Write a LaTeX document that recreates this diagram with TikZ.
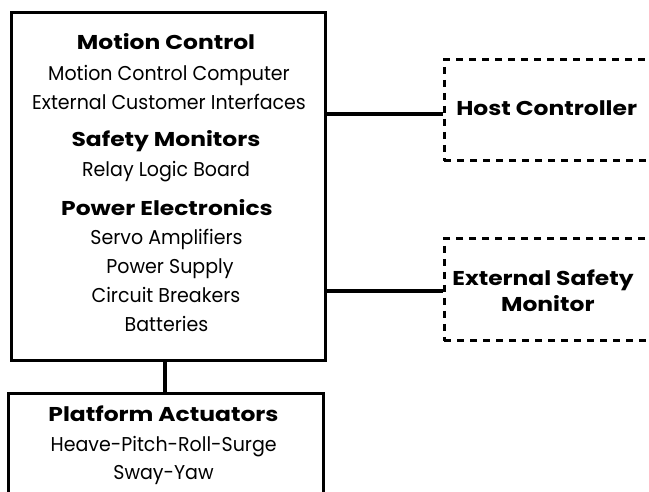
\documentclass[tikz,border=0pt]{standalone}
\usepackage{fontspec}
\setmainfont{Poppins}[FakeStretch=0.95]
\newfontfamily\headfont{Poppins}[FakeStretch=1.17]
\begin{document}
\begin{tikzpicture}[x=1pt,y=-1pt,
  box/.style={draw=black, line width=3pt, rectangle, inner sep=0pt, anchor=north west},
  dashbox/.style={draw=black, line width=3pt, dash pattern=on 7pt off 6pt, rectangle, inner sep=0pt, anchor=north west},
  link/.style={draw=black, line width=4pt},
  head/.style={anchor=base, inner sep=0pt, font=\headfont\fontsize{20}{24}\selectfont\bfseries},
  item/.style={anchor=base, inner sep=0pt, font=\fontsize{20}{24}\selectfont}]
\useasboundingbox (0,0) rectangle (649,492);
\clip (0,0) rectangle (649,492);
\fill[white] (0,0) rectangle (649,492);

% control cabinet
\node[box, minimum width=313.5pt, minimum height=347pt] (main) at (10,11.5) {};
\node[head] (mc)  at (166,50)  {Motion Control};
\node[item] (mcc) at (169,81)  {Motion Control Computer};
\node[item] (eci) at (169,110) {External Customer Interfaces};
\node[head] (sm)  at (166,147) {Safety Monitors};
\node[item] (rlb) at (166,177) {Relay Logic Board};
\node[head] (pe)  at (167,216) {Power Electronics};
\node[item] (sa)  at (166.5,245) {Servo Amplifiers};
\node[item] (ps)  at (170,274) {Power Supply};
\node[item] (cb)  at (166,303) {Circuit Breakers};
\node[item] (bat) at (166.5,332) {Batteries};

% external units
\node[dashbox, minimum width=257.5pt, minimum height=101.5pt] (host) at (442.5,58) {};
\node[head] (hc) at (546.7,116) {Host Controller};
\node[dashbox, minimum width=257.5pt, minimum height=102pt] (esm) at (442.5,237.5) {};
\node[head] (es1) at (543,286) {External Safety};
\node[head] (es2) at (547.8,311.7) {Monitor};

% actuators
\node[box, minimum width=315.2pt, minimum height=130pt] (act) at (6.5,391.5) {};
\node[head] (pa)  at (163.5,421) {Platform Actuators};
\node[item] (hp)  at (163.7,451) {Heave-Pitch-Roll-Surge};
\node[item] (sy)  at (163.5,479) {Sway-Yaw};

% connections
\draw[link] ([yshift=-4.25pt]host.west) -- ([yshift=-4.25pt]host.west -| main.east);
\draw[link] ([yshift=-1.5pt]esm.west) -- ([yshift=-1.5pt]esm.west -| main.east);
\draw[link] ([xshift=-1pt]act.north) -- ([xshift=-1pt]act.north |- main.south);
\end{tikzpicture}
\end{document}
